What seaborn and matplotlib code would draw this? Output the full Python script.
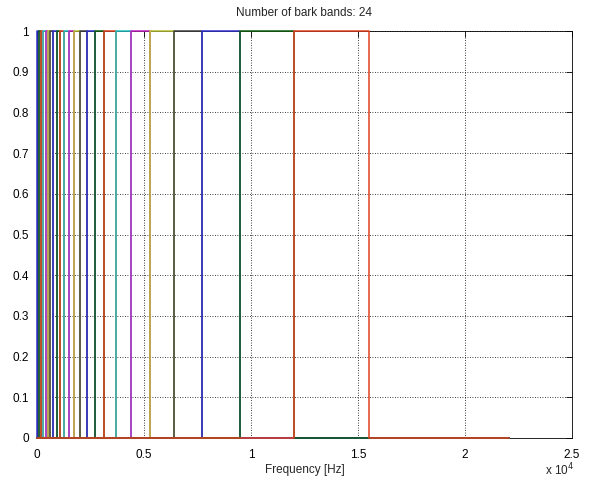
import numpy as np
import pandas as pd
import seaborn as sns
import matplotlib
matplotlib.use("Agg")
import matplotlib.pyplot as plt

# Bark band edges (Hz) -> 24 bands
band_edges = [0, 100, 200, 300, 400, 510, 630, 770, 920, 1080, 1270, 1480,
              1720, 2000, 2320, 2700, 3150, 3700, 4400, 5300, 6400, 7700,
              9500, 12000, 15500]
nyquist = 22050
x_ticks = [0, 5000, 10000, 15000, 20000, 25000]
x_tick_labels = ["0", "0.5", "1", "1.5", "2", "2.5"]
y_ticks = [0, 0.1, 0.2, 0.3, 0.4, 0.5, 0.6, 0.7, 0.8, 0.9, 1]
y_tick_labels = ["0", "0.1", "0.2", "0.3", "0.4", "0.5", "0.6", "0.7", "0.8", "0.9", "1"]
line_colors = ["#3030d0", "#106010", "#e04020", "#20c0c0", "#c020c0", "#b8c030", "#404040"]

rows = []
for k in range(len(band_edges) - 1):
    lo, hi = band_edges[k], band_edges[k + 1]
    xs = [0, lo, lo, hi, hi, nyquist]
    ys = [0, 0, 1, 1, 0, 0]
    for i, (xv, yv) in enumerate(zip(xs, ys)):
        rows.append({"band": k, "order": i, "freq": xv, "gain": yv})
df = pd.DataFrame(rows)
palette = {k: line_colors[k % 7] for k in range(len(band_edges) - 1)}

sns.set_style("white")
plt.rcParams["font.family"] = ["Liberation Sans", "DejaVu Sans"]

fig = plt.figure(figsize=(5.93, 4.82), dpi=100)
fig.patch.set_facecolor("white")
ax = fig.add_axes([37 / 593, 1 - 438 / 482, (572 - 37) / 593, (438 - 31) / 482])

sns.lineplot(data=df, x="freq", y="gain", hue="band", palette=palette,
             units="band", estimator=None, sort=False, legend=False,
             linewidth=1.1, ax=ax)
for i, ln in enumerate(ax.get_lines()):
    ln.set_clip_on(False)
    ln.set_snap(True)
    ln.set_zorder(2 + i * 0.01)

ax.set_xlim(0, 25000)
ax.set_ylim(0, 1)
ax.set_xticks(x_ticks)
ax.set_xticklabels(x_tick_labels)
ax.set_yticks(y_ticks)
ax.set_yticklabels(y_tick_labels)
ax.grid(True, color="black", linestyle=(0, (1, 2)), linewidth=0.6)
ax.set_axisbelow(True)
ax.tick_params(direction="in", length=4, width=0.6, top=True, right=True,
               labelsize=8.5, colors="black")
ax.tick_params(axis="x", pad=8)
ax.tick_params(axis="y", pad=6)
for sp in ax.spines.values():
    sp.set_visible(True)
    sp.set_color("black")
    sp.set_linewidth(0.6)
    sp.set_zorder(1)

ax.set_title("Number of bark bands: 24", fontsize=8.5, pad=11)
ax.set_xlabel("Frequency [Hz]", fontsize=8.5, labelpad=2)
ax.set_ylabel("")
fig.text(560 / 593, 1 - 470 / 482, r"x 10$^{4}$", fontsize=8.5, ha="center", va="center")

fig.savefig("out.png", dpi=100, facecolor=fig.get_facecolor())
